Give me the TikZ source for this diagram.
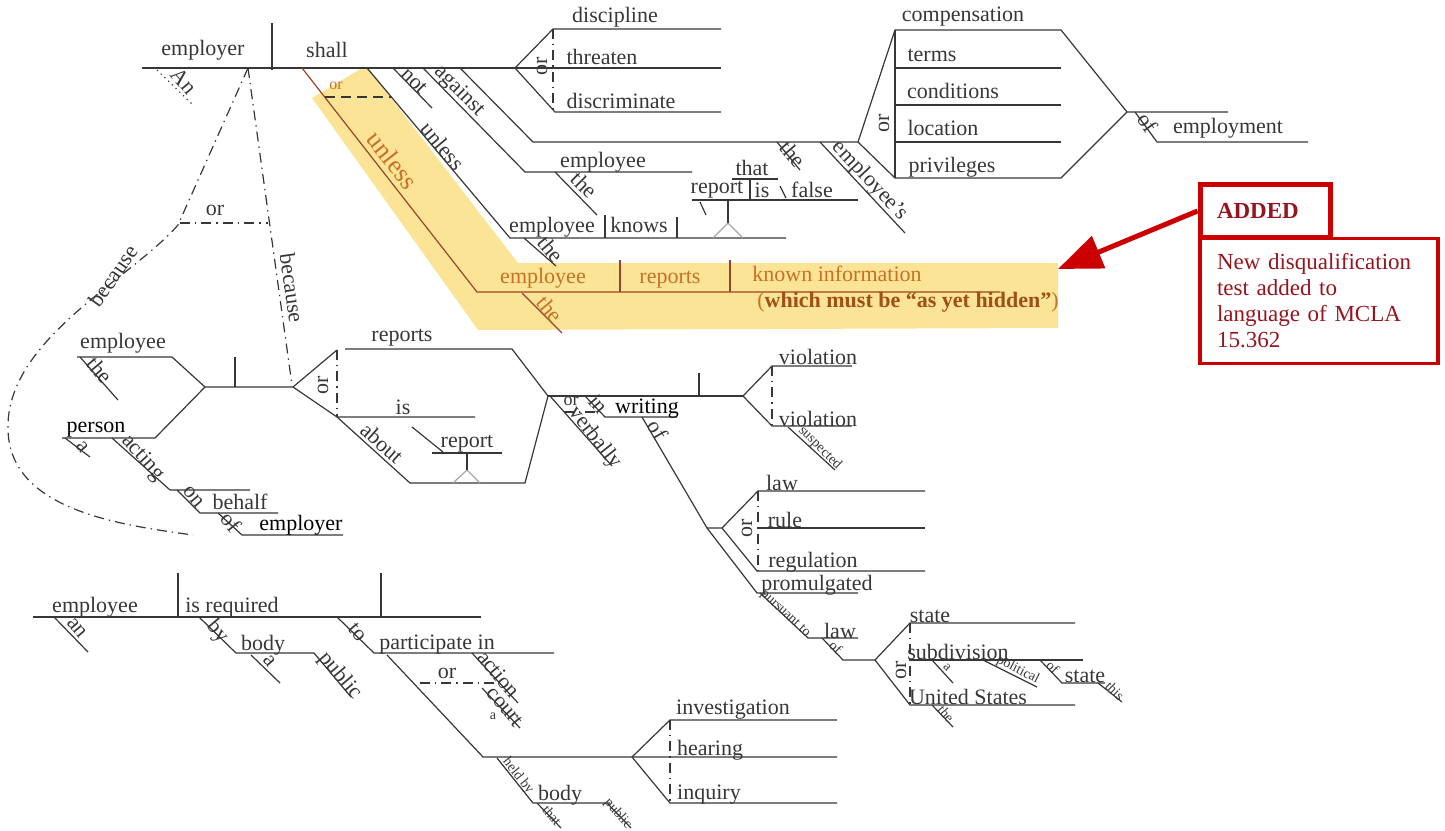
\documentclass[tikz,border=0pt]{standalone}
\usepackage{fontspec}
\setmainfont{Liberation Serif}
\usetikzlibrary{arrows.meta}
\definecolor{ink}{RGB}{55,55,55}
\definecolor{hlfill}{RGB}{252,228,150}
\definecolor{hltext}{RGB}{200,112,40}
\definecolor{hldark}{RGB}{160,80,20}
\definecolor{hlline}{RGB}{150,70,40}
\definecolor{boxred}{RGB}{204,0,0}
\definecolor{boxtext}{RGB}{150,20,30}
\tikzset{
  ln/.style={draw=ink, line width=0.6pt},
  orl/.style={ln, dash pattern=on 5pt off 2.5pt on 0.7pt off 2.5pt},
  hlln/.style={draw=hlline, line width=0.6pt},
  ped/.style={draw=gray!70, line width=0.6pt},
  wd/.style={text=ink, inner sep=0pt, font=\fontsize{11}{13}\selectfont},
  dk/.style={wd, text=black},
  tn/.style={text=ink, inner sep=0pt, font=\fontsize{7}{8}\selectfont},
  hl/.style={text=hltext, inner sep=0pt, font=\fontsize{11}{13}\selectfont}
}
\begin{document}
\begin{tikzpicture}[x=0.5pt,y=-0.5pt]
\useasboundingbox (0,0) rectangle (1445,830);
% highlight
\fill[hlfill] (312,98) -- (362,68) -- (368,68) -- (518,263) -- (1058,263) -- (1058,328) -- (478,330) -- cycle;

% main clause
\draw[ln] (142,68) -- (721,68);
\draw[ln] (272,23) -- (272,70);
\node[wd] (employer) at (203,50) {employer};
\node[wd] (shall) at (327,50) {shall};
\draw[ln,dotted] (157,70) -- (193,105);
\node[wd,rotate=-50] (an) at (184,81) {An};
% verbs
\draw[ln] (515,68) -- (553,29) -- (721,29);
\draw[ln] (515,68) -- (555,112) -- (721,112);
\draw[orl] (553,29) -- (553,112);
\node[wd,rotate=90] (orverb) at (542,66) {or};
\node[wd] (discipline) at (615,17) {discipline};
\node[wd] (threaten) at (602,57) {threaten};
\node[wd] (discriminate) at (621,101) {discriminate};
% not, against
\draw[ln] (393,68) -- (432,108);
\node[wd,rotate=-45] (not) at (414,81) {not};
\draw[ln] (423,68) -- (525,172) -- (692,172);
\node[wd,rotate=-45] (against) at (459,91) {against};
\node[wd] (empA) at (603,162) {employee};
\draw[ln] (555,172) -- (597,215);
\node[wd,rotate=-45] (theA) at (584,185) {the};
\draw[ln] (460,68) -- (533,142) -- (858,142);
\draw[ln] (777,142) -- (800,170);
\node[wd,rotate=-50] (theB) at (793,154) {the};
\draw[ln] (820,142) -- (905,233);
\node[wd,rotate=-47] (emps) at (870,181) {employee's};
% compensation ... privileges
\draw[ln] (858,142) -- (895,30) -- (1061,30) -- (1127,112) -- (1228,112);
\draw[ln] (858,142) -- (895,178) -- (1061,178) -- (1127,112);
\draw[ln] (895,30) -- (895,178);
\foreach \y in {68,105,142} \draw[ln] (895,\y) -- (1061,\y);
\node[wd,rotate=90] (orcomp) at (884,123) {or};
\node[wd] (compensation) at (963,17) {compensation};
\node[wd] (terms) at (932,55) {terms};
\node[wd] (conditions) at (953,91) {conditions};
\node[wd] (location) at (943,128) {location};
\node[wd] (privileges) at (952,167) {privileges};
\draw[ln] (1135,112) -- (1157,142) -- (1308,142);
\node[wd,rotate=-55] (ofemp) at (1148,123) {of};
\node[wd] (employment) at (1228,128) {employment};

% unless (old)
\draw[ln] (367,68) -- (510,238) -- (786,238);
\node[wd,rotate=-50] (unless) at (443,146) {unless};
\draw[ln] (605,215) -- (605,238);
\draw[ln] (677,217) -- (677,238);
\node[wd] (empB) at (552,227) {employee};
\node[wd] (knows) at (639,225) {knows};
\draw[ln] (524,238) -- (556,266);
\node[wd,rotate=-50] (theC) at (551,249) {the};
\draw[ped] (713,238) -- (728,223) -- (743,238);
\draw[ln] (728,223) -- (728,200);
\draw[ln] (692,200) -- (858,200);
\draw[ln] (750,179) -- (750,200);
\draw[ln] (732,179) -- (778,179);
\node[wd] (that) at (752,168) {that};
\node[wd] (reportA) at (717,190) {report};
\node[wd] (isA) at (762,190) {is};
\draw[ln] (780,186) -- (786,198);
\node[wd] (false) at (812,190) {false};
\draw[ln] (700,202) -- (706,215);

% unless (added)
\draw[hlln] (302,68) -- (477,292) -- (1000,292);
\draw[ln,dash pattern=on 5pt off 3pt] (325,97) -- (391,97);
\node[hl,font=\fontsize{8}{9}\selectfont] (orun) at (336,86) {or};
\node[hl,font=\fontsize{13}{15}\selectfont,rotate=-52] (unlessB) at (393,160) {unless};
\draw[hlln] (620,260) -- (620,292);
\draw[hlln] (730,260) -- (730,292);
\node[hl] (empC) at (543,278) {employee};
\node[hl] (reportsA) at (670,280) {reports};
\node[hl] (known) at (837,274) {known information};
\node[hl] (hidden) at (908,302) {(\textcolor{hldark}{\bfseries which must be “as yet hidden”})};
\draw[hlln] (522,293) -- (562,333);
\node[hl,rotate=-50] (theD) at (550,309) {the};

% note
\node[draw=boxred, line width=2.5pt, minimum width=65pt, minimum height=26.5pt, inner sep=0pt,
  text width=48pt, align=left, text=boxtext, font=\bfseries\fontsize{11.5}{13}\selectfont] (added) at (1265,211) {ADDED};
\node[draw=boxred, line width=1.8pt, minimum width=119pt, minimum height=62.5pt, inner sep=0pt,
  text width=102pt, align=left, text=boxtext, font=\fontsize{11.5}{13}\selectfont] (note) at (1319,301)
  {New disqualification\\test added to\\language of MCLA\\15.362};
\coordinate (tip) at (1058,269);
\draw[boxred, line width=2.5pt, -{Triangle[length=22pt,width=17pt]}] (added.west) -- (tip);

% because
\draw[orl] (248,68) -- (292,385);
\node[wd,rotate=-82] (becauseA) at (292,288) {because};
\draw[orl] (248,68) -- (178,225) .. controls (130,280) and (5,340) .. (8,430) .. controls (10,510) and (120,525) .. (193,535);
\draw[orl] (180,223) -- (268,223);
\node[wd] (orbec) at (215,210) {or};
\node[wd,rotate=55] (becauseB) at (113,276) {because};

% employee or person
\draw[ln] (77,357) -- (172,357) -- (205,387) -- (293,387);
\draw[ln] (62,438) -- (155,438) -- (205,387);
\draw[ln] (235,357) -- (235,387);
\node[wd] (empD) at (123,343) {employee};
\draw[ln] (80,357) -- (118,400);
\node[wd,rotate=-50] (theE) at (100,370) {the};
\node[dk] (person) at (96,430) {person};
\draw[ln] (65,438) -- (90,457);
\node[wd,rotate=-50] (aA) at (83,447) {a};
\draw[ln] (112,438) -- (170,490) -- (250,490);
\node[wd,rotate=-48] (acting) at (143,458) {acting};
\draw[ln] (177,490) -- (200,513) -- (278,513);
\node[wd,rotate=-50] (on) at (193,497) {on};
\node[wd] (behalf) at (240,502) {behalf};
\draw[ln] (218,513) -- (242,535) -- (343,535);
\node[wd,rotate=-50] (ofA) at (231,522) {of};
\node[dk] (employerB) at (301,525) {employer};

% reports or is
\draw[ln] (293,387) -- (337,350);
\draw[ln] (345,349) -- (512,349) -- (548,396);
\draw[ln] (293,387) -- (337,417) -- (475,417);
\draw[orl] (337,350) -- (337,417);
\node[wd,rotate=90] (orrep) at (323,385) {or};
\node[wd] (reportsB) at (402,338) {reports};
\node[wd] (isB) at (403,407) {is};
\draw[ln] (337,417) -- (410,483) -- (525,483) -- (548,396);
\node[wd,rotate=-42] (about) at (382,443) {about};
\draw[ped] (453,483) -- (467,470) -- (480,483);
\draw[ln] (467,453) -- (467,470);
\draw[ln] (432,453) -- (502,453);
\node[wd] (reportB) at (467,444) {report};
\draw[ln] (412,427) -- (443,452);

% violation
\draw[ln] (548,396) -- (743,396);
\draw[ln] (699,373) -- (699,396);
\draw[ln] (743,396) -- (772,366) -- (852,366);
\draw[ln] (743,396) -- (772,426) -- (852,426);
\draw[orl] (772,366) -- (772,426);
\node[wd] (violA) at (818,357) {violation};
\node[wd] (violB) at (818,419) {violation};
\draw[ln] (788,427) -- (835,470);
\node[tn,rotate=-45] (suspected) at (820,448) {suspected};
% in writing or verbally
\draw[ln] (550,396) -- (612,466);
\node[wd,rotate=-52] (verbally) at (595,438) {verbally};
\draw[orl] (564,412) -- (600,412);
\node[wd,font=\fontsize{9}{10}\selectfont] (orwr) at (571,401) {or};
\draw[ln] (585,396) -- (605,417) -- (677,417);
\node[wd,rotate=-50] (in) at (599,404) {in};
\node[dk] (writing) at (647,409) {writing};
\draw[ln] (642,417) -- (707,528) -- (722,528);
\node[wd,rotate=-60] (ofB) at (658,430) {of};

% law rule regulation
\draw[ln] (722,528) -- (758,491) -- (925,491);
\draw[ln] (758,528) -- (925,528);
\draw[ln] (722,528) -- (757,571) -- (925,571);
\draw[orl] (758,491) -- (758,571);
\node[wd,rotate=90] (orlaw) at (747,528) {or};
\node[wd] (lawA) at (782,483) {law};
\node[wd] (rule) at (785,520) {rule};
\node[wd] (regulation) at (813,562) {regulation};
\draw[ln] (707,528) -- (757,593) -- (858,593);
\node[wd] (promulgated) at (817,585) {promulgated};
\draw[ln] (760,593) -- (808,638) -- (858,638);
\node[tn,rotate=-43] (pursuant) at (785,614) {pursuant to};
\node[wd] (lawB) at (840,631) {law};
\draw[ln] (822,638) -- (843,660) -- (875,660);
\node[tn,rotate=-45] (ofC) at (836,647) {of};

% state subdivision United States
\draw[ln] (875,660) -- (910,623) -- (1075,623);
\draw[ln] (910,660) -- (1083,660);
\draw[ln] (875,660) -- (910,705) -- (1075,705);
\draw[orl] (910,623) -- (910,705);
\node[wd,rotate=90] (orst) at (901,670) {or};
\node[wd] (stateA) at (930,616) {state};
\node[wd] (subdivision) at (958,652) {subdivision};
\node[wd] (us) at (968,697) {United States};
\draw[ln] (932,660) -- (953,683);
\node[tn,rotate=-45] (aB) at (947,667) {a};
\draw[ln] (983,660) -- (1037,687);
\node[tn,rotate=-27] (political) at (1018,670) {political};
\draw[ln] (1040,660) -- (1062,683) -- (1105,683);
\node[tn,rotate=-45] (ofD) at (1053,667) {of};
\node[wd] (stateB) at (1085,676) {state};
\draw[ln] (1098,683) -- (1122,702);
\node[tn,rotate=-45] (this) at (1115,691) {this};
\draw[ln] (932,705) -- (953,727);
\node[tn,rotate=-50] (theF) at (946,714) {the};

% employee is required
\draw[ln] (33,617) -- (481,617);
\draw[ln] (178,573) -- (178,617);
\draw[ln] (381,573) -- (381,617);
\node[wd] (empE) at (95,607) {employee};
\node[wd] (required) at (232,607) {is required};
\draw[ln] (54,617) -- (88,652);
\node[wd,rotate=-50] (anB) at (77,628) {an};
\draw[ln] (199,617) -- (236,653) -- (314,653);
\node[wd,rotate=-50] (by) at (218,632) {by};
\node[wd] (bodyA) at (263,645) {body};
\draw[ln] (251,655) -- (280,683);
\node[wd,rotate=-50] (aC) at (270,661) {a};
\draw[ln] (314,653) -- (351,697);
\node[wd,rotate=-50] (publicA) at (340,676) {public};
\draw[ln] (337,617) -- (374,653) -- (554,653);
\node[wd,rotate=-50] (to) at (358,632) {to};
\node[wd] (participate) at (437,645) {participate in};
\draw[ln] (472,653) -- (518,703);
\node[wd,rotate=-50] (action) at (499,674) {action};
\draw[orl] (420,683) -- (497,683);
\node[wd] (oract) at (447,673) {or};
\draw[ln] (482,688) -- (520,728);
\node[wd,rotate=-50] (court) at (505,707) {court};
\node[tn] (aD) at (493,716) {a};
% investigation hearing inquiry
\draw[ln] (387,655) -- (483,757) -- (837,757);
\draw[ln] (632,757) -- (670,720) -- (837,720);
\draw[ln] (632,757) -- (670,803) -- (837,803);
\draw[orl] (670,720) -- (670,803);
\node[wd] (investigation) at (733,710) {investigation};
\node[wd] (hearing) at (710,750) {hearing};
\node[wd] (inquiry) at (709,795) {inquiry};
\draw[ln] (497,758) -- (533,803) -- (610,803);
\node[tn,rotate=-52] (heldby) at (518,776) {held by};
\node[wd] (bodyB) at (560,795) {body};
\draw[ln] (537,803) -- (561,828);
\node[tn,rotate=-50] (thatB) at (552,815) {that};
\draw[ln] (607,803) -- (631,828);
\node[tn,rotate=-50] (publicB) at (618,814) {public};
\end{tikzpicture}
\end{document}
